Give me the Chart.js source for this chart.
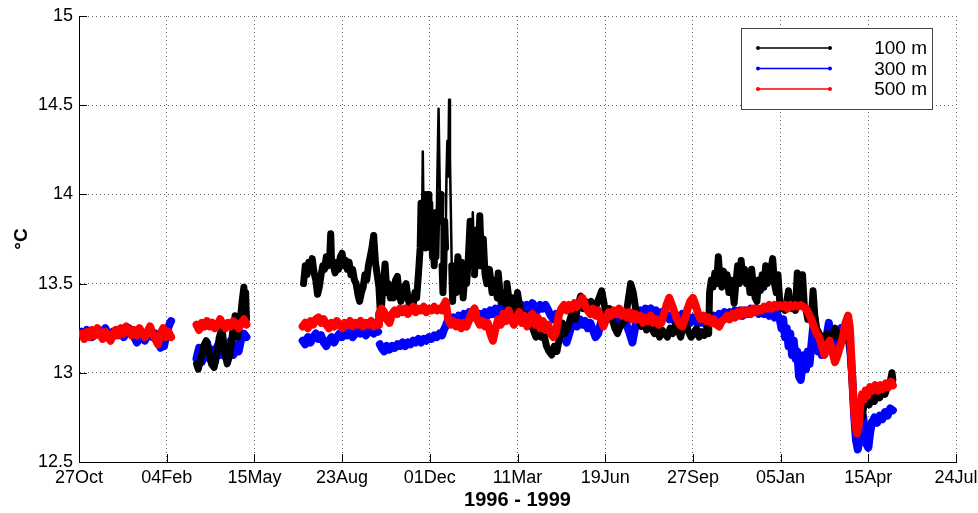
<!DOCTYPE html>
<html>
<head>
<meta charset="utf-8">
<script src="https://cdn.jsdelivr.net/npm/chart.js@4.4.1/dist/chart.umd.min.js"></script>
<style>
html,body{margin:0;padding:0;background:#fff;}
#wrap{position:relative;width:978px;height:513px;}
</style>
</head>
<body>
<div id="wrap"><canvas id="c"></canvas></div>
<script>
// x axis: days since 27 Oct 1996
const xTickDays = [0,100,200,300,400,500,600,700,800,900,1000];
const xTickLabels = ['27Oct','04Feb','15May','23Aug','01Dec','11Mar','19Jun','27Sep','05Jan','15Apr','24Jul'];
const yTickValues = [12.5,13,13.5,14,14.5,15];
const seriesNames = ['100 m','300 m','500 m'];
const xTitle = '1996 - 1999';
const yTitle = '°C';

// [day, temperature °C]; null = data gap
const m100 = [
[134,13.05],[136,13.02],[139,13.08],[142,13.15],[145,13.18],[148,13.12],[151,13.05],[154,13.03],[157,13.1],[160,13.2],[163,13.25],[166,13.12],[169,13.05],[172,13.1],[175,13.22],[178,13.32],[181,13.2],[184,13.3],[186,13.4],[188,13.48],[189,13.3],[190,13.45],[191,13.3],
[220,null],
[256,13.5],[258,13.6],[260,13.55],[262,13.62],[264,13.58],[266,13.64],[268,13.56],[270,13.52],[272,13.44],[274,13.48],[276,13.55],[278,13.6],[280,13.58],[282,13.65],[284,13.6],[286,13.66],[287,13.78],[288,13.62],[290,13.6],[292,13.56],[294,13.62],[296,13.58],[298,13.65],[300,13.67],[302,13.6],[304,13.63],[306,13.58],[308,13.62],[310,13.55],[312,13.58],[314,13.52],[316,13.5],[318,13.44],[320,13.4],[322,13.45],[324,13.48],[326,13.55],[328,13.52],[330,13.6],[332,13.65],[334,13.7],[336,13.77],[338,13.62],[340,13.55],[342,13.48],[344,13.3],[346,13.45],[348,13.55],[349,13.61],[351,13.45],[353,13.5],[355,13.42],[357,13.48],[359,13.42],[361,13.52],[363,13.54],[365,13.45],[367,13.4],[369,13.43],[371,13.48],[373,13.5],[375,13.42],[377,13.38],[379,13.4],[381,13.38],[383,13.45],[385,13.42],[387,13.55],
[389,13.7],[390,13.95],[391,13.72],[392,14.24],[393,13.8],[394,14.0],[395,13.7],[396,13.95],[397,13.75],[398,14.0],[399,13.8],[400,13.95],[401,13.7],[402,13.9],[403,13.65],[404,13.85],[405,13.6],[406,13.75],[407,13.65],[408,13.9],[409,14.2],[410,14.48],[411,14.15],[412,13.85],[413,14.0],[414,13.6],[415,13.45],[416,13.6],[417,13.85],[418,13.7],[419,14.1],[420,14.3],[421,14.1],[422,14.53],[423,14.2],[424,13.9],[425,13.6],[426,13.4],
[428,13.6],[430,13.45],[432,13.65],[434,13.5],[436,13.62],[438,13.42],[440,13.55],[442,13.5],[444,13.65],[446,13.85],[448,13.6],[449,13.9],[451,13.55],[453,13.8],[455,13.6],[457,13.88],[459,13.6],[461,13.75],[463,13.55],[465,13.5],[468,13.58],[471,13.45],[474,13.52],[477,13.42],[478,13.56],[481,13.4],[484,13.45],[487,13.38],[488,13.5],[491,13.38],[494,13.42],[497,13.35],[500,13.45],[503,13.35],[506,13.3],[509,13.33],[512,13.26],[515,13.3],[518,13.24],[521,13.2],[524,13.25],[527,13.2],[530,13.22],[533,13.15],[536,13.12],[539,13.1],[542,13.15],[545,13.12],[548,13.2],[551,13.28],[554,13.22],[557,13.25],[560,13.3],[563,13.35],[566,13.3],[569,13.38],[572,13.43],[575,13.36],[578,13.4],[581,13.35],[584,13.4],[587,13.33],[590,13.38],[593,13.42],[596,13.46],[599,13.38],[602,13.32],[605,13.36],[608,13.3],[611,13.25],[614,13.22],[617,13.26],[620,13.28],[623,13.3],[626,13.4],[629,13.5],[632,13.45],[635,13.35],[638,13.3],[641,13.26],[644,13.3],[647,13.24],[650,13.28],[653,13.25],[656,13.22],[659,13.26],[662,13.2],[665,13.24],[668,13.22],[671,13.2],[674,13.25],[677,13.22],[680,13.27],[683,13.24],[686,13.2],[689,13.26],[692,13.28],[695,13.23],[698,13.2],[701,13.22],[704,13.25],[707,13.2],[710,13.23],[713,13.21],[716,13.25],[718,13.22],
[719,13.45],[721,13.52],[723,13.48],[725,13.56],[727,13.5],[729,13.65],[731,13.52],[733,13.48],[735,13.57],[737,13.5],[739,13.55],[741,13.45],[743,13.52],[745,13.48],[747,13.39],[749,13.5],[751,13.6],[753,13.5],[755,13.63],[757,13.52],[759,13.58],[761,13.5],[763,13.55],[765,13.45],[767,13.58],[769,13.48],[771,13.42],[773,13.4],[775,13.52],[777,13.46],[779,13.55],[781,13.48],[783,13.6],[785,13.5],[787,13.55],[789,13.58],[791,13.64],[793,13.5],[795,13.45],[797,13.55],[799,13.4],[801,13.36],[803,13.38],[805,13.35],[807,13.4],[809,13.46],[811,13.38],[813,13.36],[815,13.4],[817,13.35],[819,13.56],[821,13.38],[823,13.4],[825,13.55],[827,13.38],[829,13.35],[831,13.3],[833,13.32],[835,13.3],[837,13.46],[839,13.32],[841,13.25],[844,13.22],[847,13.2],[850,13.18],[853,13.22],[856,13.18],[859,13.2],[862,13.25],[865,13.2],[868,13.22],[871,13.18],[874,13.24],[877,13.22],[879,13.15],[881,13.0],[883,12.85],[885,12.78],[887,12.72],[889,12.75],[891,12.8],[893,12.75],[895,12.82],[898,12.85],[901,12.82],[904,12.86],[907,12.84],[910,12.88],[913,12.86],[916,12.9],[919,12.88],[922,12.92],[925,12.95],[927,13.0],[928,12.96]
];

const m300 = [
[3,13.23],[6,13.21],[9,13.24],[12,13.22],[15,13.2],[18,13.23],[21,13.24],[24,13.21],[27,13.23],[30,13.25],[33,13.22],[36,13.2],[39,13.23],[42,13.21],[45,13.24],[48,13.22],[51,13.2],[54,13.23],[57,13.25],[60,13.22],[63,13.2],[66,13.17],[69,13.19],[72,13.22],[75,13.18],[78,13.21],[81,13.23],[84,13.2],[87,13.22],[90,13.18],[93,13.14],[95,13.16],[97,13.15],[99,13.2],[101,13.24],[103,13.27],[105,13.29],
[120,null],
[134,13.08],[137,13.14],[140,13.06],[143,13.12],[146,13.17],[149,13.08],[152,13.13],[155,13.06],[158,13.15],[161,13.1],[164,13.17],[167,13.09],[170,13.14],[173,13.18],[176,13.1],[179,13.16],[182,13.12],[185,13.19],[188,13.22],[191,13.2],
[220,null],
[255,13.18],[258,13.16],[261,13.2],[264,13.17],[267,13.2],[270,13.22],[273,13.19],[276,13.21],[279,13.17],[282,13.15],[285,13.18],[288,13.2],[291,13.17],[294,13.2],[297,13.22],[300,13.2],[303,13.23],[306,13.21],[309,13.23],[312,13.2],[315,13.22],[318,13.24],[321,13.22],[324,13.24],[327,13.21],[330,13.23],[333,13.25],[336,13.22],[339,13.24],[341,13.23],
[342,null],
[343,13.16],[345,13.14],[348,13.12],[351,13.15],[354,13.13],[357,13.15],[360,13.14],[363,13.16],[366,13.15],[369,13.17],[372,13.15],[375,13.17],[378,13.16],[381,13.18],[384,13.17],[387,13.19],[390,13.17],[393,13.19],[396,13.18],[399,13.2],[402,13.19],[405,13.21],[408,13.2],[411,13.22],[414,13.21],[416,13.24],[418,13.26],
[421,13.3],[424,13.28],[427,13.31],[430,13.29],[433,13.32],[436,13.3],[439,13.33],[442,13.31],[445,13.34],[448,13.31],[451,13.33],[454,13.3],[457,13.33],[460,13.31],[463,13.34],[466,13.32],[469,13.35],[472,13.33],[475,13.36],[478,13.34],[481,13.37],[484,13.35],[487,13.37],[490,13.34],[493,13.37],[496,13.35],[499,13.38],[502,13.36],[505,13.38],[508,13.35],[511,13.38],[514,13.36],[517,13.39],[520,13.37],[523,13.35],[526,13.38],[529,13.36],[532,13.38],[535,13.35],[538,13.32],[541,13.3],[544,13.33],[547,13.28],[550,13.25],[553,13.2],[556,13.17],[559,13.22],[562,13.27],[565,13.3],[568,13.26],[571,13.3],[574,13.27],[577,13.29],[580,13.25],[583,13.28],[586,13.24],[589,13.2],[592,13.22],[595,13.28],[598,13.33],[601,13.3],[604,13.33],[607,13.3],[610,13.32],[613,13.29],[616,13.31],[619,13.27],[622,13.3],[625,13.26],[628,13.22],[631,13.17],[634,13.25],[637,13.33],[640,13.35],[643,13.33],[646,13.36],[649,13.34],[652,13.36],[655,13.33],[658,13.35],[661,13.32],[664,13.34],[667,13.31],[670,13.33],[673,13.3],[676,13.32],[679,13.29],[682,13.32],[685,13.3],[688,13.33],[691,13.29],[694,13.31],[697,13.28],[700,13.31],[703,13.29],[706,13.32],[709,13.28],[712,13.3],[715,13.27],[718,13.31],[721,13.29],[724,13.32],[727,13.3],[730,13.33],[733,13.31],[736,13.34],[739,13.32],[742,13.34],[745,13.32],[748,13.35],[751,13.33],[754,13.35],[757,13.32],[760,13.35],[763,13.33],[766,13.36],[769,13.34],[772,13.36],[775,13.33],[778,13.35],[781,13.33],[784,13.35],[787,13.32],[790,13.34],[793,13.31],[796,13.33],[799,13.3],[801,13.25],[803,13.3],[805,13.2],[807,13.25],[809,13.15],[811,13.22],[813,13.1],[815,13.18],[817,13.08],[819,13.12],[821,12.98],[823,12.96],[825,13.05],[827,13.1],[829,13.02],[831,13.12],[833,13.05],[835,13.15],[837,13.25],[839,13.3],[841,13.2],[843,13.12],[845,13.18],[847,13.1],[849,13.2],[851,13.15],[853,13.22],[855,13.28],[857,13.2],[859,13.12],[861,13.2],[863,13.15],[866,13.22],[869,13.25],[872,13.2],[875,13.22],[878,13.18],[880,13.1],[882,12.95],[884,12.75],[886,12.62],[888,12.57],[890,12.62],[892,12.74],[894,12.76],[896,12.68],[898,12.6],[900,12.58],[902,12.66],[904,12.72],[907,12.75],[910,12.72],[913,12.76],[916,12.74],[919,12.78],[922,12.76],[925,12.8],[928,12.79]
];

const m500 = [
[3,13.22],[6,13.19],[9,13.23],[12,13.2],[15,13.24],[18,13.21],[21,13.25],[24,13.22],[27,13.19],[30,13.23],[33,13.2],[36,13.18],[39,13.22],[42,13.24],[45,13.21],[48,13.25],[51,13.22],[54,13.26],[57,13.23],[60,13.21],[63,13.24],[66,13.21],[69,13.25],[72,13.22],[75,13.2],[78,13.23],[81,13.26],[84,13.22],[87,13.19],[90,13.16],[93,13.22],[96,13.25],[99,13.2],[102,13.23],[105,13.2],
[120,null],
[134,13.27],[137,13.24],[140,13.28],[143,13.26],[146,13.29],[149,13.26],[152,13.28],[155,13.25],[158,13.27],[161,13.3],[164,13.27],[167,13.25],[170,13.28],[173,13.26],[176,13.29],[179,13.27],[182,13.25],[185,13.28],[188,13.3],[191,13.27],
[220,null],
[255,13.26],[258,13.28],[261,13.25],[264,13.29],[267,13.27],[270,13.3],[273,13.31],[276,13.28],[279,13.3],[282,13.27],[285,13.25],[288,13.28],[291,13.26],[294,13.29],[297,13.27],[300,13.25],[303,13.28],[306,13.27],[309,13.29],[312,13.26],[315,13.28],[318,13.27],[321,13.29],[324,13.26],[327,13.28],[330,13.27],[333,13.29],[336,13.26],[339,13.28],[341,13.27],
[342,13.33],[345,13.36],[348,13.34],[351,13.3],[354,13.28],[357,13.33],[360,13.35],[363,13.33],[366,13.36],[369,13.34],[372,13.36],[375,13.33],[378,13.35],[381,13.37],[384,13.34],[387,13.36],[390,13.35],[393,13.37],[396,13.34],[399,13.36],[402,13.35],[405,13.37],[408,13.35],[411,13.36],[414,13.35],[416,13.38],[418,13.4],
[421,13.3],[424,13.27],[427,13.29],[430,13.26],[433,13.28],[436,13.25],[439,13.28],[442,13.26],[445,13.3],[448,13.34],[451,13.36],[454,13.3],[457,13.27],[460,13.29],[463,13.26],[466,13.28],[469,13.22],[472,13.18],[475,13.25],[478,13.3],[481,13.27],[484,13.33],[487,13.29],[490,13.35],[493,13.3],[496,13.27],[499,13.31],[502,13.34],[505,13.28],[508,13.32],[511,13.26],[514,13.3],[517,13.33],[520,13.27],[523,13.31],[526,13.25],[529,13.29],[532,13.24],[535,13.27],[538,13.22],[541,13.2],[544,13.23],[547,13.32],[550,13.36],[553,13.38],[556,13.35],[559,13.38],[562,13.36],[565,13.39],[568,13.37],[571,13.4],[574,13.42],[577,13.38],[580,13.35],[583,13.33],[586,13.36],[589,13.32],[592,13.35],[595,13.3],[598,13.26],[601,13.3],[604,13.34],[607,13.32],[610,13.35],[613,13.33],[616,13.36],[619,13.32],[622,13.34],[625,13.31],[628,13.34],[631,13.3],[634,13.33],[637,13.3],[640,13.32],[643,13.28],[646,13.31],[649,13.29],[652,13.32],[655,13.28],[658,13.3],[661,13.27],[664,13.28],[667,13.33],[670,13.38],[673,13.42],[676,13.38],[679,13.34],[682,13.3],[685,13.27],[688,13.26],[691,13.3],[694,13.36],[697,13.4],[700,13.42],[703,13.38],[706,13.33],[709,13.3],[712,13.32],[715,13.29],[718,13.31],[721,13.28],[724,13.3],[727,13.27],[730,13.26],[733,13.29],[736,13.3],[739,13.32],[742,13.3],[745,13.33],[748,13.31],[751,13.34],[754,13.32],[757,13.35],[760,13.33],[763,13.35],[766,13.33],[769,13.36],[772,13.34],[775,13.36],[778,13.35],[781,13.37],[784,13.36],[787,13.38],[790,13.36],[793,13.38],[796,13.37],[799,13.38],[802,13.37],[805,13.38],[808,13.36],[811,13.38],[814,13.37],[817,13.38],[820,13.37],[823,13.38],[826,13.37],[829,13.36],[832,13.33],[835,13.3],[838,13.26],[841,13.22],[844,13.2],[847,13.15],[850,13.1],[853,13.15],[856,13.18],[859,13.12],[862,13.06],[865,13.1],[868,13.15],[871,13.2],[874,13.28],[877,13.32],[879,13.25],[881,13.05],[883,12.85],[885,12.72],[887,12.66],[889,12.7],[891,12.82],[893,12.88],[895,12.85],[897,12.9],[899,12.87],[902,12.92],[905,12.9],[908,12.93],[911,12.9],[914,12.93],[917,12.91],[920,12.94],[923,12.92],[926,12.95],[928,12.93]
];

const FONT = '"Liberation Sans", Arial, Helvetica, sans-serif';
const toPoints = arr => arr.map(p => ({x: p[0], y: p[1]}));

const boxLegend = {
  id: 'boxLegend',
  afterDatasetsDraw(chart) {
    const ctx = chart.ctx, a = chart.chartArea;
    const x0 = a.right - 215, y0 = a.top + 12, w = 191, h = 81;
    ctx.save();
    ctx.fillStyle = '#fff';
    ctx.fillRect(x0, y0, w, h);
    ctx.strokeStyle = '#444';
    ctx.lineWidth = 1;
    ctx.strokeRect(x0 + 0.5, y0 + 0.5, w, h);
    chart.data.datasets.forEach((ds, i) => {
      const y = y0 + 20 + i * 20.5;
      ctx.strokeStyle = ds.borderColor;
      ctx.lineWidth = 1.5;
      ctx.beginPath(); ctx.moveTo(x0 + 17, y); ctx.lineTo(x0 + 89, y); ctx.stroke();
      ctx.fillStyle = ds.borderColor;
      [x0 + 17, x0 + 89].forEach(px => { ctx.beginPath(); ctx.arc(px, y, 2, 0, Math.PI * 2); ctx.fill(); });
      ctx.fillStyle = '#000';
      ctx.font = '19px ' + FONT;
      ctx.textAlign = 'right';
      ctx.textBaseline = 'middle';
      ctx.fillText(ds.label, x0 + 186, y + 1);
    });
    ctx.restore();
  }
};

const innerTicks = {
  id: 'innerTicks',
  afterDraw(chart) {
    const {ctx, chartArea: a, scales: {x, y}} = chart;
    ctx.save();
    ctx.strokeStyle = '#000';
    ctx.lineWidth = 1;
    ctx.beginPath();
    xTickDays.forEach(d => { const px = Math.round(x.getPixelForValue(d)) + 0.5; ctx.moveTo(px, a.bottom); ctx.lineTo(px, a.bottom - 8); });
    yTickValues.forEach(v => { const py = Math.round(y.getPixelForValue(v)) + 0.5; ctx.moveTo(a.left, py); ctx.lineTo(a.left + 8, py); });
    ctx.stroke();
    ctx.restore();
  }
};

// thin strokes for the isolated tall spikes, thick for the dense hourly band
const spikeWidth = (thick, thin) => c => {
  const a = c.p0.parsed.y, b = c.p1.parsed.y;
  return (Math.max(a, b) > 14.05 || Math.abs(b - a) > 0.3) ? thin : thick;
};

const lineDefaults = {pointRadius: 0, tension: 0, spanGaps: false, borderJoinStyle: 'round', borderCapStyle: 'round'};

new Chart(document.getElementById('c'), {
  type: 'line',
  data: {
    datasets: [
      Object.assign({label: seriesNames[0], data: toPoints(m100), borderColor: '#000000', order: 2, borderWidth: 7,
        segment: {borderWidth: spikeWidth(7, 2.5)}}, lineDefaults),
      Object.assign({label: seriesNames[1], data: toPoints(m300), borderColor: '#0000ff', order: 3, borderWidth: 8}, lineDefaults),
      Object.assign({label: seriesNames[2], data: toPoints(m500), borderColor: '#ff0000', order: 1, borderWidth: 8}, lineDefaults)
    ]
  },
  options: {
    responsive: true,
    maintainAspectRatio: false,
    animation: false,
    devicePixelRatio: 1,
    events: [],
    layout: {padding: {left: 0, top: 16, right: 22, bottom: 0}},
    plugins: {legend: {display: false}, tooltip: {enabled: false}},
    scales: {
      x: {
        type: 'linear', min: 0, max: 1000,
        afterFit: s => { s.height = 51; s.paddingLeft = 0; s.paddingRight = 0; },
        afterBuildTicks: s => { s.ticks = xTickDays.map(v => ({value: v})); },
        ticks: {
          autoSkip: false, maxRotation: 0, padding: 5, color: '#000',
          font: {family: FONT, size: 18},
          callback: v => xTickLabels[xTickDays.indexOf(v)]
        },
        grid: {color: 'rgba(0,0,0,0.6)', lineWidth: 1, drawTicks: false},
        border: {display: true, color: '#000', width: 1, dash: [1, 3]},
        title: {display: true, text: xTitle, color: '#000', font: {family: FONT, size: 20, weight: 'bold'}, padding: {top: 2, bottom: 1}}
      },
      y: {
        type: 'linear', min: 12.5, max: 15,
        afterFit: s => { s.width = 79; s.paddingTop = 0; s.paddingBottom = 0; },
        afterBuildTicks: s => { s.ticks = yTickValues.map(v => ({value: v})); },
        ticks: {
          padding: 6, color: '#000',
          font: {family: FONT, size: 18},
          callback: v => String(v)
        },
        grid: {color: 'rgba(0,0,0,0.6)', lineWidth: 1, drawTicks: false},
        border: {display: true, color: '#000', width: 1, dash: [1, 3]},
        title: {display: true, text: yTitle, color: '#000', font: {family: FONT, size: 19, weight: 'bold'}, padding: {top: 10, bottom: 0}}
      }
    }
  },
  plugins: [boxLegend, innerTicks]
});
</script>
</body>
</html>
